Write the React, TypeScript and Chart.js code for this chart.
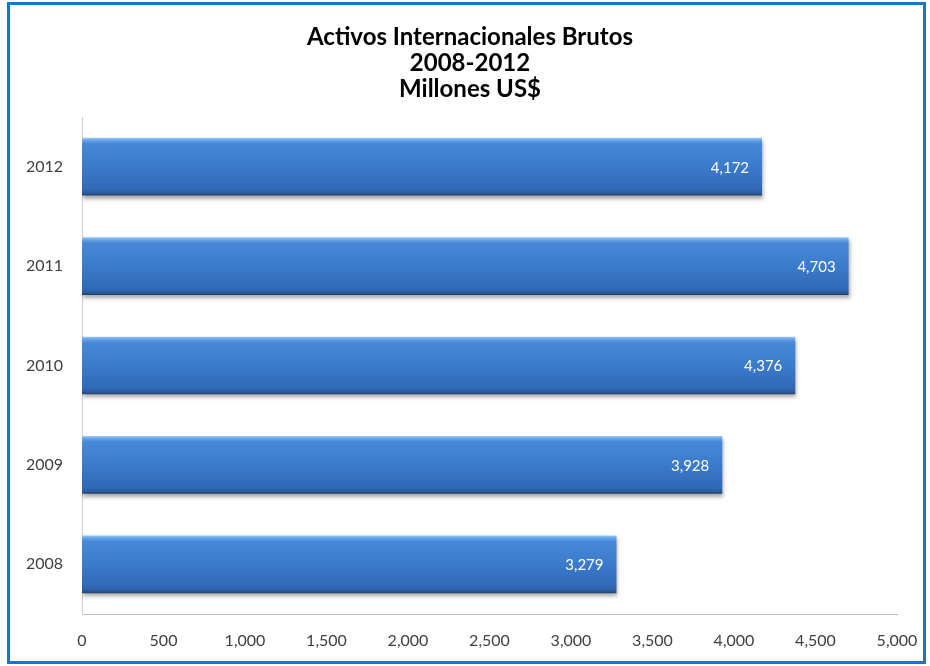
import React, { useEffect, useRef } from "react";
import { Chart, registerables } from "chart.js";

Chart.register(...registerables);

const categories = ["2012", "2011", "2010", "2009", "2008"];
const values = [4172, 4703, 4376, 3928, 3279];
const titleLines = ["Activos Internacionales Brutos", "2008-2012", "Millones US$"];
const xMin = 0;
const xMax = 5000;
const xStep = 500;

const FONT = "Lato, 'Open Sans', sans-serif";
const BAR_PCT = 0.58;

const fmt = (v: number) => v.toLocaleString("en-US");

export default function App() {
  const ref = useRef<HTMLCanvasElement | null>(null);

  useEffect(() => {
    document.body.style.margin = "0";
    const canvas = ref.current;
    if (!canvas) return;

    const titlePlugin = {
      id: "multiTitle",
      afterDraw(chart: any) {
        const c = chart.ctx;
        c.save();
        c.fillStyle = "#000000";
        c.font = `bold 24px ${FONT}`;
        c.textAlign = "center";
        c.textBaseline = "alphabetic";
        const baselines = [45, 71, 97];
        titleLines.forEach((t, i) => c.fillText(t, 470, baselines[i]));
        c.restore();
      },
    };

    const shadowPlugin = {
      id: "barShadow",
      beforeDatasetsDraw(chart: any) {
        const c = chart.ctx;
        c.save();
        c.shadowColor = "rgba(0,0,0,0.35)";
        c.shadowBlur = 4;
        c.shadowOffsetX = 1;
        c.shadowOffsetY = 3;
      },
      afterDatasetsDraw(chart: any) {
        const c = chart.ctx;
        c.restore();
        const meta = chart.getDatasetMeta(0);
        c.save();
        c.fillStyle = "#ffffff";
        c.font = `15px ${FONT}`;
        c.textAlign = "right";
        c.textBaseline = "middle";
        meta.data.forEach((el: any, i: number) => {
          const p = el.getProps(["x", "y"], true);
          c.fillText(fmt(values[i]), p.x - 13, p.y + 1);
        });
        c.restore();
      },
    };

    const chart = new Chart(canvas, {
      type: "bar",
      data: {
        labels: categories,
        datasets: [
          {
            data: values,
            barPercentage: BAR_PCT,
            categoryPercentage: 1,
            borderWidth: 0,
            backgroundColor: (ctx: any) => {
              const ch = ctx.chart;
              const area = ch.chartArea;
              const ys = ch.scales && ch.scales.y;
              if (!area || !ys) return "#3a78c9";
              const yc = ys.getPixelForValue(ctx.dataIndex);
              const h = (area.bottom - area.top) / categories.length * BAR_PCT;
              const g = ch.ctx.createLinearGradient(0, yc - h / 2, 0, yc + h / 2);
              g.addColorStop(0, "#9ccaf3");
              g.addColorStop(0.04, "#6aa6e8");
              g.addColorStop(0.1, "#4788d8");
              g.addColorStop(0.5, "#3b7bcc");
              g.addColorStop(0.9, "#3068b4");
              g.addColorStop(0.96, "#2a5a9c");
              g.addColorStop(1, "#263f66");
              return g;
            },
          },
        ],
      },
      options: {
        indexAxis: "y",
        animation: false,
        responsive: false,
        maintainAspectRatio: false,
        layout: { padding: { left: 0, right: 33, top: 117, bottom: 0 } },
        plugins: {
          legend: { display: false },
          tooltip: { enabled: false },
          title: { display: false },
        },
        scales: {
          x: {
            min: xMin,
            max: xMax,
            grid: { display: false, drawTicks: false },
            border: { display: true, color: "#bcbcbc", width: 1 },
            ticks: {
              stepSize: xStep,
              color: "#404040",
              padding: 17,
              font: { family: FONT, size: 16 },
              callback: (v: any) => fmt(Number(v)),
            },
            afterFit: (s: any) => {
              s.height = 52;
              s.paddingLeft = 0;
              s.paddingRight = 0;
            },
          },
          y: {
            grid: { display: false, drawTicks: false },
            border: { display: true, color: "#d0d0d0", width: 1 },
            ticks: {
              color: "#404040",
              padding: 19,
              font: { family: FONT, size: 16 },
            },
            afterFit: (s: any) => {
              s.width = 82;
              s.paddingTop = 0;
              s.paddingBottom = 0;
            },
          },
        },
      },
      plugins: [shadowPlugin, titlePlugin],
    } as any);

    return () => chart.destroy();
  }, []);

  return (
    <div style={{ position: "relative", width: 930, height: 666, background: "#ffffff" }}>
      <canvas ref={ref} width={930} height={666} style={{ position: "absolute", left: 0, top: 0 }} />
      <div
        style={{
          position: "absolute",
          left: 7,
          top: 2,
          width: 919,
          height: 662,
          border: "3px solid #1c74c8",
          boxSizing: "border-box",
          pointerEvents: "none",
        }}
      />
    </div>
  );
}
